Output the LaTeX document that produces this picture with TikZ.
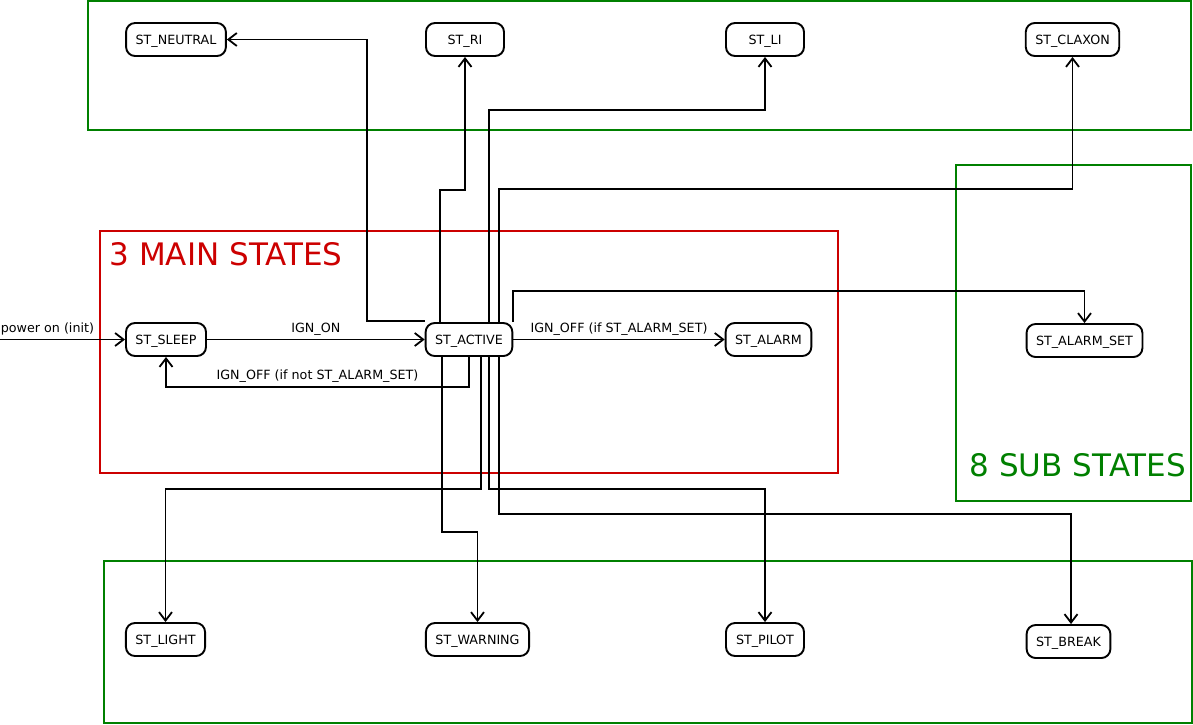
\documentclass[tikz,border=0pt]{standalone}
\usepackage{fontspec}
\setmainfont{DejaVu Sans}
\usetikzlibrary{arrows.meta}
\definecolor{mainColor}{RGB}{204,0,0}
\definecolor{subColor}{RGB}{0,128,0}
\tikzstyle{diagram} = [x = 1pt, y = -1pt]
\tikzstyle{stateStyle} = [draw=black, fill=white, rounded corners = 9pt, line width = 1.9pt, minimum width = 78pt, minimum height = 33pt, inner xsep = 9.5pt, text height = 9.2pt, text depth = 0pt, font=\fontsize{12.7}{15}\selectfont]
\tikzstyle{transitionStyle} = [draw=black, line width = 1.8pt, -{Straight Barb[length=8.5pt, width=13pt]}]
\tikzstyle{transitionText} = [font=\fontsize{12.7}{15}\selectfont, above, inner sep = 3.5pt]
\tikzstyle{mainFrame} = [draw=mainColor, line width = 1.8pt]
\tikzstyle{subFrame} = [draw=subColor, line width = 1.8pt]
\tikzstyle{frameText} = [font=\fontsize{31}{37}\selectfont, anchor=base west, inner sep=0pt]
\newcommand{\stateNode}[4]{\node [stateStyle] (#1) at (#2, #3) {#4};}

\begin{document}
\begin{tikzpicture}[diagram]
  \useasboundingbox (0,0) rectangle (1193,724);
  % frames
  \draw [subFrame] (88,1) rectangle (1191,130);
  \draw [subFrame] (956,165) rectangle (1191,501);
  \draw [subFrame] (104,561) rectangle (1192,723);
  \draw [mainFrame] (100,231) rectangle (838,473);
  \node [frameText, text=mainColor] (mainTitle) at (109.5,265) {3 MAIN STATES};
  \node [frameText, text=subColor] (subTitle) at (969.5,476) {8 SUB STATES};

  % main states
  \stateNode{sleep}{166}{339.5}{ST\_SLEEP}
  \stateNode{active}{469}{339.5}{ST\_ACTIVE}
  \stateNode{alarm}{768.5}{339.5}{ST\_ALARM}

  % sub states
  \stateNode{neutral}{176}{39.5}{ST\_NEUTRAL}
  \stateNode{ri}{465}{39.5}{ST\_RI}
  \stateNode{li}{765}{39.5}{ST\_LI}
  \stateNode{claxon}{1072.5}{39.5}{ST\_CLAXON}
  \stateNode{alarmSet}{1084.5}{340.5}{ST\_ALARM\_SET}
  \stateNode{light}{165.5}{639.5}{ST\_LIGHT}
  \stateNode{warning}{477.5}{639.5}{ST\_WARNING}
  \stateNode{pilot}{765}{639.5}{ST\_PILOT}
  \stateNode{break}{1068.5}{641.5}{ST\_BREAK}

  % transitions
  \coordinate (powerOn) at (0,339.5);
  \draw [transitionStyle] (powerOn) -- node [transitionText, pos=0, anchor=south west, inner xsep=0pt] {power on (init)} (sleep.west);
  \draw [transitionStyle] (sleep.east) -- node [transitionText] {IGN\_ON} (active.west);
  \draw [transitionStyle] (active.south) -- ++(0,30) -| node [transitionText, pos=.25] {IGN\_OFF (if not ST\_ALARM\_SET)} (sleep.south);
  \draw [transitionStyle] (active.east) -- node [transitionText] {IGN\_OFF (if ST\_ALARM\_SET)} (alarm.west);

  \draw [transitionStyle] ([yshift=1pt]active.north west) -- ++(-58,0) |- (neutral.east);
  \draw [transitionStyle] ([xshift=15pt]active.north west) -- ++(0,-132) -| (ri.south);
  \draw [transitionStyle] ([xshift=64pt]active.north west) -- ++(0,-212) -| (li.south);
  \draw [transitionStyle] ([xshift=74pt]active.north west) -- ++(0,-133) -| (claxon.south);
  \draw [transitionStyle] (active.north east) -- ++(0,-31) -| (alarmSet.north);

  \draw [transitionStyle] ([xshift=56pt]active.south west) -- ++(0,132) -| (light.north);
  \draw [transitionStyle] ([xshift=17pt]active.south west) -- ++(0,175) -| (warning.north);
  \draw [transitionStyle] ([xshift=64pt]active.south west) -- ++(0,132) -| (pilot.north);
  \draw [transitionStyle] ([xshift=74pt]active.south west) -- ++(0,157) -| ([xshift=2.5pt]break.north);
\end{tikzpicture}
\end{document}
